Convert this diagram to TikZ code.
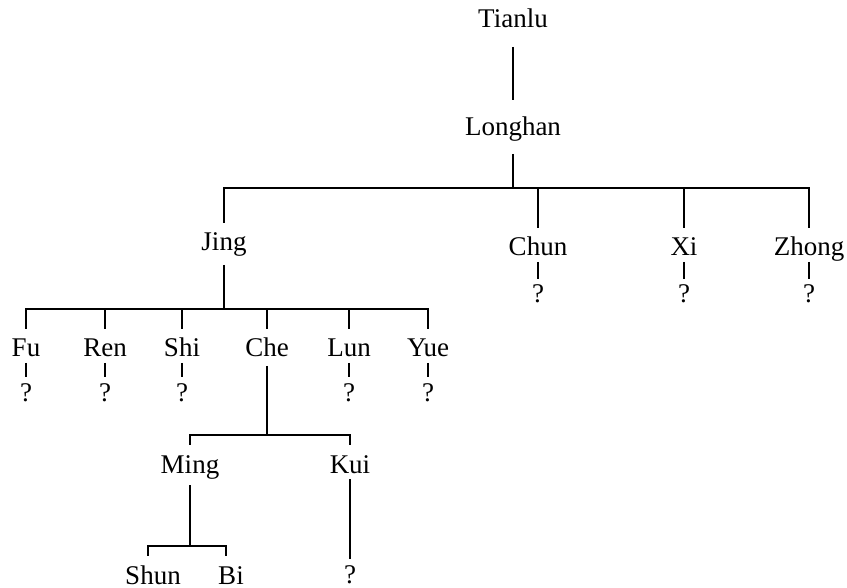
\documentclass[tikz,border=0pt]{standalone}
\usepackage{fontspec}
\setmainfont{Liberation Serif}
\usetikzlibrary{positioning}

\begin{document}
\begin{tikzpicture}[
x=1pt, y=1pt,
on grid,
font=\fontsize{27pt}{30pt}\selectfont,
person/.style={inner sep=0pt, outer ysep=6pt, text height=18pt, text depth=0pt},
link/.style={line width=2.6pt},
stem/.style={link, shorten <=8pt},
drop/.style={link, shorten >=4pt}
]
\useasboundingbox (0,0) rectangle (847,-588);

% first two generations
\node[person] (tianlu) at (513,-19) {Tianlu};
\node[person, below=108pt of tianlu] (longhan) {Longhan};
\coordinate[below=61pt of longhan] (split1);

\node[person, below left=115pt and 289pt of longhan] (jing) {Jing};
\node[person, below right=120pt and 25pt of longhan] (chun) {Chun};
\node[person, right=146pt of chun] (xi) {Xi};
\node[person, right=125pt of xi] (zhong) {Zhong};
\node[person, below=47pt of chun] (chunq) {?};
\node[person, below=47pt of xi] (xiq) {?};
\node[person, below=47pt of zhong] (zhongq) {?};
\coordinate[below=67pt of jing] (split2);

% sons of Jing
\node[person, below left=106pt and 198pt of jing] (fu) {Fu};
\node[person, right=79pt of fu] (ren) {Ren};
\node[person, right=77pt of ren] (shi) {Shi};
\node[person, right=85pt of shi] (che) {Che};
\node[person, right=82pt of che] (lun) {Lun};
\node[person, right=79pt of lun] (yue) {Yue};
\node[person, below=44pt of fu] (fuq) {?};
\node[person, below=44pt of ren] (renq) {?};
\node[person, below=44pt of shi] (shiq) {?};
\node[person, below=44pt of lun] (lunq) {?};
\node[person, below=44pt of yue] (yueq) {?};
\coordinate[below=87pt of che] (split3);

% line of Che
\node[person, below left=116pt and 77pt of che] (ming) {Ming};
\node[person, right=160pt of ming] (kui) {Kui};
\node[person, below=110pt of kui] (kuiq) {?};
\coordinate[below=82pt of ming] (split4);
\node[person, below left=111pt and 37pt of ming] (shun) {Shun};
\node[person, right=78pt of shun] (bi) {Bi};

\draw[link, shorten <=13pt, shorten >=12pt] (tianlu) -- (longhan);

\draw[stem, shorten <=12pt] (longhan) -- (split1);
\foreach \c in {jing, chun, xi, zhong}
  \draw[drop] (split1) -| (\c);

\draw[stem] (jing) -- (split2);
\foreach \c in {fu, ren, shi, che, lun, yue}
  \draw[drop] (split2) -| (\c);

\draw[stem, shorten <=3pt] (che) -- (split3);
\foreach \c in {ming, kui}
  \draw[drop] (split3) -| (\c);

\draw[stem, shorten <=6pt] (ming) -- (split4);
\draw[drop] (split4) -| (shun.north -| 148,0);
\draw[drop] (split4) -| (bi.north -| 226,0);

% unknown descendants
\foreach \p in {chun, xi, zhong, fu, ren, shi, lun, yue, kui}
  \draw[link] (\p) -- (\p q);

\end{tikzpicture}
\end{document}
